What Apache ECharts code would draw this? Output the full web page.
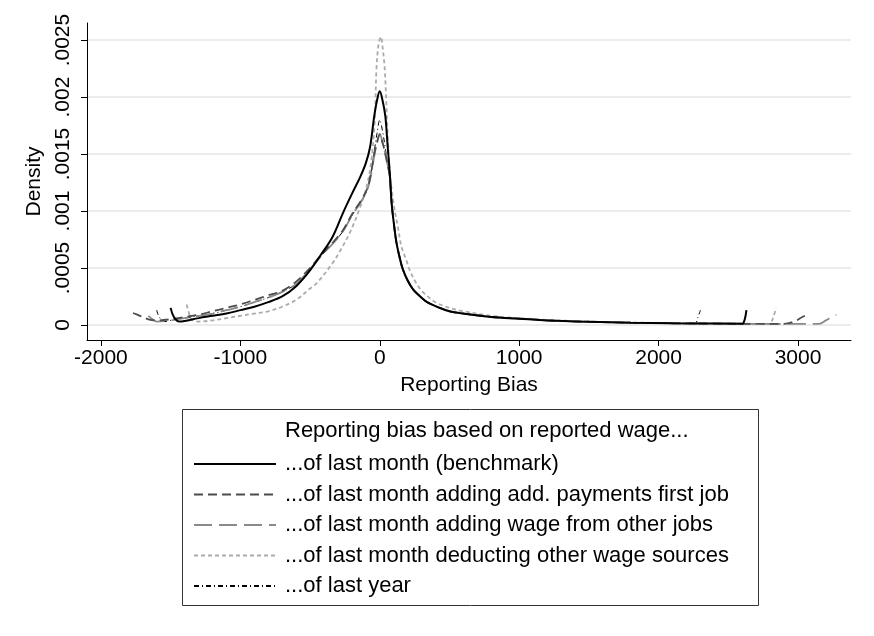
<!DOCTYPE html>
<html>
<head>
<meta charset="utf-8">
<script src="https://cdn.jsdelivr.net/npm/echarts@6/dist/echarts.min.js"></script>
<style>html,body{margin:0;padding:0;background:#fff}#c{width:874px;height:636px}</style>
</head>
<body>
<div id="c"></div>
<script>
// ---- data ----
const seriesNames = [
  '...of last month (benchmark)',
  '...of last month adding add. payments first job',
  '...of last month adding wage from other jobs',
  '...of last month deducting other wage sources',
  '...of last year'
];
const legendTitle = 'Reporting bias based on reported wage...';
const xTicks = [-2000, -1000, 0, 1000, 2000, 3000];
const yTicks = [0, 0.0005, 0.001, 0.0015, 0.002, 0.0025];

const benchX = [-1500,-1485,-1465,-1440,-1400,-1300,-1200,-1100,-1000,-900,-800,-700,-600,-500,-420,-340,-265,-200,-140,-100,-70,-40,-20,0,20,40,57,72,85,100,120,145,165,200,240,290,340,430,500,600,800,1000,1200,1500,1800,2100,2400,2600,2618,2630];
const benchY = [.00015,.00009,.00005,.00003,.000035,.00006,.00008,.0001,.00013,.00016,.0002,.00025,.00034,.00048,.00062,.00077,.00098,.00115,.0013,.00142,.00156,.00183,.00197,.00205,.00197,.00183,.00156,.00133,.00107,.0009,.00072,.00058,.00049,.00039,.00031,.00025,.0002,.00015,.00012,.0001,.00007,.000055,.00004,.000028,.00002,.000015,.000012,.00001,.00005,.00013];

const addPayX = [-1770,-1740,-1700,-1660,-1600,-1500,-1400,-1300,-1200,-1100,-1000,-900,-800,-700,-600,-500,-410,-340,-265,-195,-130,-86,-60,-40,-20,0,20,40,57,72,85,100,120,145,165,200,240,290,340,430,500,600,800,1000,1200,1500,1800,2100,2400,2700,2900,2990,3030,3070];
const addPayY = [.000105,.00009,.00007,.00005,.00004,.00005,.00007,.00009,.00012,.00015,.00018,.00022,.00026,.0003,.00038,.0005,.00063,.00072,.00083,.00098,.0011,.00121,.00135,.0015,.0016,.00167,.0016,.0015,.0014,.0013,.00107,.0009,.00072,.00058,.00049,.00039,.00031,.00025,.0002,.00015,.00012,.0001,.00007,.000055,.00004,.000028,.00002,.000015,.000012,.00001,.00001,.00004,.00007,.00009];

const otherJobsX = [-1660,-1630,-1600,-1500,-1400,-1300,-1200,-1100,-1000,-900,-800,-700,-600,-500,-410,-340,-265,-195,-130,-86,-60,-40,-20,0,20,40,57,72,85,100,120,145,165,200,240,290,340,430,500,600,800,1000,1200,1500,1800,2100,2400,2700,3000,3150,3200,3240,3275];
const otherJobsY = [.00008,.00005,.00003,.00004,.00006,.00008,.0001,.00013,.00016,.0002,.00024,.00029,.00036,.00049,.00062,.00071,.00082,.00097,.00109,.0012,.00134,.00148,.0016,.00168,.0016,.0015,.0014,.0013,.00107,.0009,.00072,.00058,.00049,.00039,.00031,.00025,.0002,.00015,.00012,.0001,.00007,.000055,.00004,.000028,.00002,.000015,.000012,.00001,.00001,.00001,.00004,.00007,.00009];

const deductX = [-1385,-1370,-1350,-1300,-1200,-1100,-1000,-900,-800,-700,-600,-500,-450,-340,-280,-215,-157,-95,-60,-36,-24,-10,8,20,36,57,75,93,108,130,155,190,215,260,308,400,500,600,800,1000,1200,1500,1800,2100,2400,2700,2800,2820,2843];
const deductY = [.00018,.00011,.00005,.00003,.00004,.00006,.00008,.0001,.00012,.00016,.00022,.00032,.00037,.00054,.00066,.00081,.00098,.00121,.00145,.0018,.00224,.00245,.00253,.00244,.00224,.00165,.0013,.00112,.001,.00086,.00069,.00057,.00048,.00037,.00029,.0002,.00015,.00012,.00008,.00006,.000045,.00003,.000022,.000016,.000013,.00001,.00001,.00006,.00015];

const lastYearX = [-1600,-1590,-1570,-1540,-1500,-1400,-1300,-1200,-1100,-1000,-900,-800,-700,-600,-500,-410,-340,-265,-195,-130,-86,-60,-40,-20,0,20,40,57,72,85,100,120,145,165,200,240,290,340,430,500,600,800,1000,1200,1500,1800,2100,2260,2280,2300];
const lastYearY = [.00013,.00009,.00005,.00003,.00004,.00006,.00008,.0001,.00013,.00016,.0002,.00024,.00029,.00036,.00049,.00062,.00071,.00082,.00097,.00109,.0012,.00136,.00152,.00168,.0018,.0017,.00155,.0014,.0013,.00107,.0009,.00072,.00058,.00049,.00039,.00031,.00025,.0002,.00015,.00012,.0001,.00007,.000055,.00004,.000028,.00002,.000015,.00001,.00006,.00013];

const xs = [benchX, addPayX, otherJobsX, deductX, lastYearX];
const ys = [benchY, addPayY, otherJobsY, deductY, lastYearY];

// ---- styles ----
const styles = [
  {color:'#000000', width:2, type:'solid'},
  {color:'#4d4d4d', width:1.8, type:[9,5]},
  {color:'#8a8a8a', width:1.8, type:[18,7]},
  {color:'#ababab', width:1.8, type:[4,3]},
  {color:'#000000', width:1, type:[5,3,1,3]}
];
const FONT = 'Liberation Sans, Arial, sans-serif';

function fmtY(v){
  if (Math.abs(v) < 1e-12) return '0';
  let s = v.toFixed(4).replace(/0+$/,'');
  return s.replace(/^0\./,'.');
}
function fmtX(v){ return String(Math.round(v)); }

const series = seriesNames.map((name,i)=>({
  name: name,
  type: 'line',
  data: xs[i].map((x,j)=>[x, ys[i][j]]),
  smooth: 0.35,
  symbol: 'none',
  showSymbol: false,
  silent: true,
  animation: false,
  z: 10 - i,
  lineStyle: {color: styles[i].color, width: styles[i].width, type: styles[i].type},
  itemStyle: {color: styles[i].color}
}));

const chart = echarts.init(document.getElementById('c'), null, {renderer:'canvas'});
chart.setOption({
  animation: false,
  backgroundColor: '#ffffff',
  textStyle: {fontFamily: FONT},
  grid: {left: 87, top: 23, right: 23, bottom: 296, containLabel: false},
  xAxis: {
    type: 'value', min: -2100, max: 3380,
    name: 'Reporting Bias', nameLocation: 'middle', nameGap: 35,
    nameTextStyle: {fontSize: 21, color: '#000', fontFamily: FONT},
    axisLine: {show: true, onZero: false, lineStyle: {color: '#000', width: 1}},
    axisTick: {show: true, customValues: xTicks, length: 6, lineStyle: {color: '#000'}},
    axisLabel: {customValues: xTicks, fontSize: 21, color: '#000', margin: 8, fontFamily: FONT, formatter: fmtX},
    splitLine: {show: false}
  },
  yAxis: {
    type: 'value', min: -0.000132, max: 0.00265,
    name: 'Density', nameLocation: 'middle', nameGap: 38, nameRotate: 90,
    nameTextStyle: {fontSize: 21, color: '#000', fontFamily: FONT},
    axisLine: {show: true, onZero: false, lineStyle: {color: '#000', width: 1}},
    axisTick: {show: true, customValues: yTicks, length: 6, lineStyle: {color: '#000'}},
    axisLabel: {customValues: yTicks, rotate: 90, fontSize: 21, color: '#000', margin: 13, formatter: fmtY, fontFamily: FONT},
    splitLine: {show: true, lineStyle: {color: '#e6e6e6', width: 1.5}}
  },
  legend: {
    orient: 'vertical', left: 188, top: 448,
    itemWidth: 82, itemHeight: 20, itemGap: 8.5,
    data: seriesNames,
    selectedMode: false,
    itemStyle: {opacity: 0},
    textStyle: {fontSize: 22, color: '#000', fontFamily: FONT, lineHeight: 20, padding: [0,0,0,4]}
  },
  graphic: [
    {type: 'rect', left: 180, top: 407, shape: {width: 576, height: 196},
     style: {fill: 'none', stroke: '#333', lineWidth: 1}, z: 0},
    {type: 'text', left: 285, top: 420,
     style: {text: legendTitle, font: '22px ' + FONT, fill: '#000'}}
  ],
  series: series
});
</script>
</body>
</html>
